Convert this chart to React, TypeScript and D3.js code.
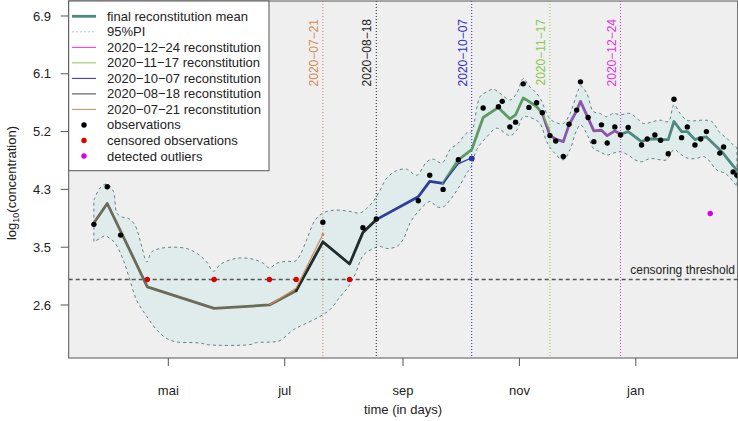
import React from "react";
import * as d3 from "d3";

// ---------- data (time = day of year 2020; log10 concentration) ----------
const xTickDays = [121, 182, 244, 305, 366];
const xTickLabels = ["mai", "jul", "sep", "nov", "jan"];
const yTickValues = [2.62, 3.48, 4.34, 5.2, 6.06, 6.92];
const yTickLabels = ["2.6", "3.5", "4.3", "5.2", "6.1", "6.9"];
const xDomain = [68.8, 419.4];
const yDomain = [1.831, 7.143];
const censoringThreshold = 3.0;

const meanDays = [82, 89, 96, 110, 145, 174, 188, 202, 216, 223, 230, 252, 258, 265, 273, 280, 286, 294, 296, 300, 303, 307, 310, 314, 317, 321, 324, 328, 331, 335, 337, 341, 344, 348, 351, 355, 358, 362, 369, 372, 376, 379, 383, 386, 390, 393, 397, 400, 403, 410, 412, 417, 419];
const meanValues = [3.84, 4.13, 3.72, 2.89, 2.57, 2.62, 2.83, 3.56, 3.23, 3.7, 3.89, 4.23, 4.46, 4.43, 4.78, 4.93, 5.41, 5.56, 5.5, 5.39, 5.45, 5.7, 5.65, 5.57, 5.47, 5.14, 5.09, 5.05, 5.3, 5.51, 5.65, 5.4, 5.21, 5.22, 5.14, 5.21, 5.16, 5.2, 5.05, 5.09, 5.09, 5.08, 5.08, 5.35, 5.2, 5.2, 5.08, 5.11, 5.12, 4.93, 4.87, 4.69, 4.63];

// colour of the thick mean line between successive break days
const segmentBreaks = [82, 188, 230, 265, 317, 358, 419];
const segmentColors = ["#6c6a58", "#1f2c2c", "#2d3d9e", "#5d9a63", "#8b56a8", "#4c8981"];

const obsDays = [82, 89, 96, 202, 223, 230, 252, 258, 265, 273, 280, 286, 294, 296, 300, 303, 307, 310, 314, 317, 321, 324, 328, 331, 335, 337, 341, 344, 348, 351, 355, 358, 362, 369, 372, 376, 379, 383, 386, 390, 393, 397, 400, 403, 410, 412, 417, 419];
const obsValues = [3.82, 4.38, 3.66, 3.85, 3.77, 3.9, 4.17, 4.55, 4.34, 4.78, 4.8, 5.55, 5.57, 5.65, 5.27, 5.34, 5.91, 5.56, 5.63, 5.48, 5.14, 5.06, 4.83, 5.31, 5.52, 5.94, 5.41, 5.05, 5.3, 5.03, 5.27, 5.15, 5.26, 5.0, 5.09, 5.15, 5.07, 4.87, 5.68, 5.11, 5.27, 5.0, 5.09, 5.2, 4.88, 4.97, 4.6, 4.55];

const censoredDays = [110, 145, 174, 188, 216];
const outlierDays = [405];
const outlierValues = [3.98];

const upperBand = [[82, 4.18], [85.2, 4.36], [88.7, 4.42], [92.2, 4.31], [94.0, 3.99], [96.6, 3.93], [100.0, 3.91], [103.5, 3.81], [107.1, 3.49], [109.7, 3.26], [112.3, 3.41], [116.6, 3.46], [123.6, 3.48], [130.6, 3.46], [135.9, 3.39], [141.1, 3.26], [144.6, 3.12], [148.1, 3.22], [153.3, 3.29], [158.6, 3.32], [165.5, 3.3], [170.8, 3.24], [173.9, 3.17], [177.8, 3.24], [183.1, 3.27], [187.4, 3.27], [190.0, 3.36], [193.5, 3.59], [197.9, 3.88], [202.2, 3.99], [207.5, 4.03], [214.5, 4.02], [221.5, 3.99], [225.0, 4.06], [228.4, 4.16], [232.0, 4.33], [235.5, 4.51], [240.7, 4.62], [245.9, 4.64], [251.2, 4.55], [256.4, 4.75], [259.9, 4.79], [264.3, 4.73], [268.6, 4.93], [273.0, 5.03], [277.4, 5.18], [279.8, 5.2], [284.4, 5.72], [287.9, 5.79], [291.3, 5.83], [294.8, 5.77], [300.1, 5.67], [303.6, 5.77], [307.1, 5.99], [309.7, 5.89], [312.3, 5.82], [315.8, 5.7], [320.2, 5.42], [322.8, 5.35], [328.0, 5.32], [331.5, 5.47], [335.9, 5.82], [337.1, 5.88], [340.3, 5.77], [343.7, 5.5], [347.3, 5.47], [350.8, 5.42], [354.2, 5.47], [357.7, 5.45], [363.0, 5.47], [366.5, 5.4], [370.0, 5.32], [375.2, 5.35], [378.7, 5.37], [383.1, 5.35], [386.0, 5.6], [389.2, 5.47], [392.7, 5.37], [396.2, 5.36], [401.4, 5.37], [405.8, 5.35], [410.2, 5.18], [413.7, 5.1], [417.1, 5.0], [419, 4.96]];
const lowerBand = [[82, 3.56], [85.2, 3.61], [87.8, 3.65], [90.4, 3.61], [93.1, 3.54], [97.4, 3.29], [100.9, 2.99], [104.4, 2.69], [109.7, 2.45], [114.9, 2.25], [120.2, 2.12], [125.4, 2.07], [134.1, 2.06], [138.5, 2.05], [141.1, 2.03], [163.8, 2.03], [167.3, 2.06], [176.0, 2.07], [179.5, 2.09], [186.5, 2.25], [193.5, 2.35], [200.5, 2.45], [205.7, 2.55], [211.0, 2.74], [215.3, 2.89], [218.8, 3.07], [223.2, 3.36], [228.4, 3.46], [232.0, 3.49], [235.5, 3.46], [240.7, 3.49], [244.0, 3.59], [247.7, 3.84], [252.0, 4.01], [258.2, 4.16], [261.7, 4.08], [265.1, 4.08], [268.6, 4.18], [273.0, 4.36], [277.4, 4.58], [279.8, 4.68], [282.6, 4.93], [287.9, 5.12], [293.1, 5.25], [300.1, 5.14], [303.6, 5.22], [307.1, 5.42], [311.5, 5.4], [315.8, 5.32], [319.3, 5.05], [322.8, 4.9], [328.0, 4.78], [331.5, 4.93], [335.0, 5.22], [337.1, 5.3], [341.1, 5.12], [343.7, 4.95], [347.3, 4.9], [350.8, 4.85], [354.2, 4.88], [357.7, 4.9], [362.1, 4.85], [365.6, 4.78], [369.1, 4.75], [373.5, 4.8], [378.7, 4.78], [382.2, 4.78], [386.0, 4.93], [390.1, 4.85], [393.5, 4.8], [397.9, 4.8], [401.4, 4.83], [404.0, 4.78], [408.4, 4.63], [412.8, 4.58], [415.4, 4.51], [419, 4.38]];

// reconstitutions: date label, day, colour, diverging tail
const reconLabels = ["2020\u221207\u221221", "2020\u221208\u221218", "2020\u221210\u221207", "2020\u221211\u221217", "2020\u221212\u221224"];
const reconDays = [202, 230, 280, 321, 358];
const reconColors = ["#cf8a55", "#222222", "#2a2ad0", "#86c84a", "#dd33dd"];
const tailOrangeDays = [174, 188, 202];
const tailOrangeValues = [2.62, 2.87, 3.67];
const tailBlueDays = [265, 273, 280];
const tailBlueValues = [4.43, 4.72, 4.81];
const tailGreenDays = [317, 321];
const tailGreenValues = [5.47, 5.22];

const legendLabels = [
  "final reconstitution mean",
  "95%PI",
  "2020\u221212\u221224 reconstitution",
  "2020\u221211\u221217 reconstitution",
  "2020\u221210\u221207 reconstitution",
  "2020\u221208\u221218 reconstitution",
  "2020\u221207\u221221 reconstitution",
  "observations",
  "censored observations",
  "detected outliers",
];

const FONT = "'Liberation Sans', Arial, Helvetica, sans-serif";
const P = { left: 68.7, right: 737.7, top: 1, bottom: 358 };

export default function App() {
  const x = d3.scaleLinear().domain(xDomain).range([P.left, P.right]);
  const y = d3.scaleLinear().domain(yDomain).range([P.bottom, P.top]);

  const curve = d3.curveCatmullRom.alpha(0.5);
  const bandLine = d3.line<number[]>().x((d) => x(d[0])).y((d) => y(d[1])).curve(curve);
  const upPath = bandLine(upperBand) || "";
  const lowRev = [...lowerBand].reverse();
  const lowPath = bandLine(lowRev) || "";
  const bandPath = upPath + "L" + lowPath.slice(1) + "Z";

  const ln = d3.line<[number, number]>().x((d) => x(d[0])).y((d) => y(d[1]));
  const meanPts: [number, number][] = meanDays.map((d, i) => [d, meanValues[i]]);
  const segments = segmentColors.map((c, i) => ({
    color: c,
    pts: meanPts.filter((p) => p[0] >= segmentBreaks[i] && p[0] <= segmentBreaks[i + 1]),
  }));
  const tails = [
    { color: reconColors[0], pts: tailOrangeDays.map((d, i) => [d, tailOrangeValues[i]] as [number, number]) },
    { color: "#2a35b0", pts: tailBlueDays.map((d, i) => [d, tailBlueValues[i]] as [number, number]) },
    { color: "#7cbf4a", pts: tailGreenDays.map((d, i) => [d, tailGreenValues[i]] as [number, number]) },
  ];

  const legendY = (i: number) => 16.3 + i * 15.52;

  return (
    <svg width={738} height={421} style={{ position: "absolute", left: 0, top: 0, fontFamily: FONT }}>
      <defs>
        <clipPath id="plotclip">
          <rect x={P.left} y={P.top} width={P.right - P.left} height={P.bottom - P.top} />
        </clipPath>
      </defs>
      <rect x={0} y={0} width={738} height={421} fill="#ffffff" />
      <rect x={P.left} y={P.top} width={P.right - P.left} height={P.bottom - P.top} fill="#efefef" />
      <g clipPath="url(#plotclip)">
        <path d={bandPath} fill="#e0ebeb" stroke="#5e8385" strokeWidth={1} strokeDasharray="3,3" />
        {reconDays.map((d, i) => (
          <line key={i} x1={x(d)} x2={x(d)} y1={P.top} y2={P.bottom} stroke={reconColors[i]} strokeWidth={1} strokeDasharray="1,2" />
        ))}
        <line x1={P.left} x2={P.right} y1={y(censoringThreshold)} y2={y(censoringThreshold)} stroke="#555" strokeWidth={1.4} strokeDasharray="4,3" />
        {segments.map((s, i) => (
          <path key={i} d={ln(s.pts) || ""} fill="none" stroke={s.color} strokeWidth={2.8} strokeLinejoin="round" strokeLinecap="round" />
        ))}
        {tails.map((t, i) => (
          <path key={i} d={ln(t.pts) || ""} fill="none" stroke={t.color} strokeWidth={1.2} />
        ))}
        <circle cx={x(tailOrangeDays[2])} cy={y(tailOrangeValues[2])} r={1.5} fill={reconColors[0]} />
        {obsDays.map((d, i) => (
          <circle key={i} cx={x(d)} cy={y(obsValues[i])} r={2.7} fill="#000" />
        ))}
        <circle cx={x(tailBlueDays[2])} cy={y(obsValues[10])} r={2.7} fill="#2a35b0" />
        {censoredDays.map((d, i) => (
          <circle key={i} cx={x(d)} cy={y(censoringThreshold)} r={2.7} fill="#dd0000" />
        ))}
        {outlierDays.map((d, i) => (
          <circle key={i} cx={x(d)} cy={y(outlierValues[i])} r={2.7} fill="#dd00dd" />
        ))}
        <text x={735} y={y(censoringThreshold) - 5} fontSize={12} textAnchor="end" fill="#222">censoring threshold</text>
        {reconDays.map((d, i) => (
          <text key={i} transform={`translate(${x(d) - 5},19) rotate(-90)`} fontSize={12} textAnchor="end" fill={reconColors[i]}>
            {reconLabels[i]}
          </text>
        ))}
      </g>
      <rect x={P.left} y={P.top} width={P.right - P.left} height={P.bottom - P.top} fill="none" stroke="#555" strokeWidth={1} />

      {/* y axis */}
      {yTickValues.map((v, i) => (
        <g key={i}>
          <line x1={P.left} x2={P.left - 8} y1={y(v)} y2={y(v)} stroke="#555" />
          <text x={51} y={y(v)} dy="0.35em" fontSize={13} textAnchor="end" fill="#222">{yTickLabels[i]}</text>
        </g>
      ))}
      <text transform="translate(16,183) rotate(-90)" fontSize={13} textAnchor="middle" fill="#222">
        log<tspan fontSize={9} dy={3}>10</tspan><tspan dy={-3}>(concentration)</tspan>
      </text>

      {/* x axis */}
      {xTickDays.map((d, i) => (
        <g key={i}>
          <line x1={x(d)} x2={x(d)} y1={P.bottom} y2={P.bottom + 8} stroke="#555" />
          <text x={x(d)} y={395} fontSize={13} textAnchor="middle" fill="#222">{xTickLabels[i]}</text>
        </g>
      ))}
      <text x={403} y={414} fontSize={13} textAnchor="middle" fill="#222">time (in days)</text>

      {/* legend */}
      <rect x={P.left} y={P.top} width={200.3} height={169.7} fill="#ffffff" stroke="#555" strokeWidth={1} />
      {legendLabels.map((lab, i) => {
        const ly = legendY(i);
        let sym: React.ReactNode = null;
        if (i === 0) sym = <line x1={72} x2={96} y1={ly} y2={ly} stroke="#4c8981" strokeWidth={2.8} />;
        else if (i === 1) sym = <line x1={72} x2={96} y1={ly} y2={ly} stroke="#9ccfd8" strokeWidth={1} strokeDasharray="2,2" />;
        else if (i <= 6) {
          const c = reconColors[6 - i];
          sym = <line x1={72} x2={96} y1={ly} y2={ly} stroke={i === 5 ? "#444" : c} strokeWidth={1} />;
        } else {
          const c = i === 7 ? "#000" : i === 8 ? "#dd0000" : "#dd00dd";
          sym = <circle cx={84} cy={ly} r={2.7} fill={c} />;
        }
        return (
          <g key={i}>
            {sym}
            <text x={107} y={ly} dy="0.35em" fontSize={13} fill="#222">{lab}</text>
          </g>
        );
      })}
    </svg>
  );
}
